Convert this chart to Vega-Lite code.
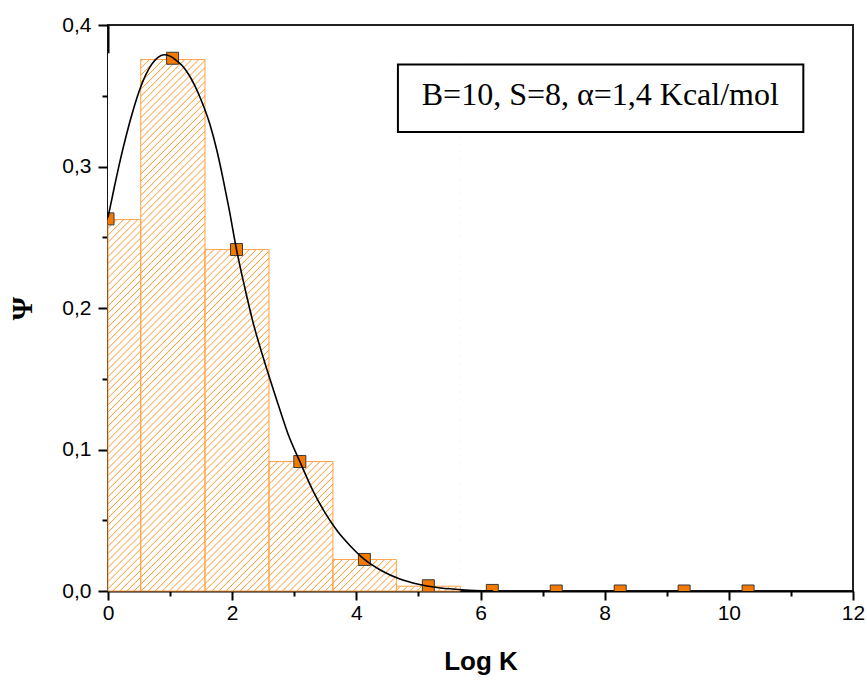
{
  "$schema": "https://vega.github.io/schema/vega-lite/v6.json",
  "width": 745,
  "height": 566,
  "autosize": {"type": "none"},
  "padding": {"left": 108, "top": 25, "right": 14, "bottom": 89},
  "background": "white",
  "config": {
    "view": {"stroke": "#222222", "strokeWidth": 2},
    "axis": {
      "grid": false,
      "ticks": true,
      "domainColor": "black",
      "domainWidth": 2,
      "tickColor": "black",
      "tickWidth": 2,
      "labelFont": "Liberation Sans",
      "labelFontSize": 21,
      "labelColor": "black",
      "labelFlush": false,
      "labelOverlap": false,
      "titleFont": "Liberation Sans",
      "titleFontSize": 26,
      "titleFontWeight": "bold",
      "titleColor": "black"
    }
  },
  "resolve": {"axis": {"x": "independent", "y": "independent"}},
  "datasets": {
    "bars": [
      {"x0": 0, "x1": 0.527, "h": 0.2625},
      {"x0": 0.527, "x1": 1.562, "h": 0.3756},
      {"x0": 1.562, "x1": 2.593, "h": 0.2413},
      {"x0": 2.593, "x1": 3.623, "h": 0.0915},
      {"x0": 3.623, "x1": 4.645, "h": 0.0223},
      {"x0": 4.645, "x1": 5.675, "h": 0.0034}
    ],
    "edges": [
      {"x": 0, "h": 0.2625},
      {"x": 0.527, "h": 0.3756},
      {"x": 1.562, "h": 0.2413},
      {"x": 2.593, "h": 0.0915},
      {"x": 3.623, "h": 0.0223},
      {"x": 4.645, "h": 0.0034},
      {"x": 5.675, "h": 0.0034}
    ],
    "points": [
      {"x": 0, "y": 0.263},
      {"x": 1.04, "y": 0.3765},
      {"x": 2.07, "y": 0.2413},
      {"x": 3.09, "y": 0.0915},
      {"x": 4.13, "y": 0.0223},
      {"x": 5.16, "y": 0.0037},
      {"x": 6.19, "y": 0.0004},
      {"x": 7.22, "y": 0.0},
      {"x": 8.25, "y": 0.0},
      {"x": 9.28, "y": 0.0},
      {"x": 10.31, "y": 0.0}
    ],
    "curve": [
      {"x": 0, "y": 0.264},
      {"x": 0.1, "y": 0.285},
      {"x": 0.2, "y": 0.305},
      {"x": 0.3, "y": 0.323},
      {"x": 0.4, "y": 0.339},
      {"x": 0.5, "y": 0.353},
      {"x": 0.6, "y": 0.364},
      {"x": 0.7, "y": 0.372},
      {"x": 0.8, "y": 0.377},
      {"x": 0.9, "y": 0.379},
      {"x": 1.0, "y": 0.378},
      {"x": 1.1, "y": 0.375},
      {"x": 1.2, "y": 0.371},
      {"x": 1.3, "y": 0.365},
      {"x": 1.4, "y": 0.357},
      {"x": 1.5, "y": 0.347},
      {"x": 1.64, "y": 0.33},
      {"x": 1.75, "y": 0.312},
      {"x": 1.85, "y": 0.292},
      {"x": 1.95, "y": 0.27},
      {"x": 2.07, "y": 0.2413},
      {"x": 2.2, "y": 0.215},
      {"x": 2.335, "y": 0.19},
      {"x": 2.5, "y": 0.165},
      {"x": 2.74, "y": 0.132},
      {"x": 2.9, "y": 0.111},
      {"x": 3.09, "y": 0.0915},
      {"x": 3.3, "y": 0.071},
      {"x": 3.5, "y": 0.055},
      {"x": 3.7, "y": 0.042},
      {"x": 3.9, "y": 0.032},
      {"x": 4.13, "y": 0.0223},
      {"x": 4.4, "y": 0.0145},
      {"x": 4.7, "y": 0.0085},
      {"x": 5.0, "y": 0.0048},
      {"x": 5.3, "y": 0.0025},
      {"x": 5.6, "y": 0.0012},
      {"x": 5.9, "y": 0.0004},
      {"x": 6.2, "y": 0.0001}
    ]
  },
  "layer": [
    {
      "data": {"values": [{}]},
      "mark": {
        "type": "rect",
        "stroke": null,
        "fill": {
          "gradient": "linear", "x1": 0, "y1": 0, "x2": 0.7658, "y2": 1.1553,
          "stops": [
            {"offset":0,"color":"#fff"},{"offset":0.0056,"color":"#fff"},{"offset":0.0068,"color":"#ff9a33"},
            {"offset":0.008,"color":"#fff"},{"offset":0.0136,"color":"#fff"},{"offset":0.0148,"color":"#ff9a33"},
            {"offset":0.016,"color":"#fff"},{"offset":0.0216,"color":"#fff"},{"offset":0.0228,"color":"#ff9a33"},
            {"offset":0.024,"color":"#fff"},{"offset":0.0296,"color":"#fff"},{"offset":0.0308,"color":"#ff9a33"},
            {"offset":0.032,"color":"#fff"},{"offset":0.0376,"color":"#fff"},{"offset":0.0388,"color":"#ff9a33"},
            {"offset":0.04,"color":"#fff"},{"offset":0.0456,"color":"#fff"},{"offset":0.0468,"color":"#ff9a33"},
            {"offset":0.048,"color":"#fff"},{"offset":0.0536,"color":"#fff"},{"offset":0.0548,"color":"#ff9a33"},
            {"offset":0.056,"color":"#fff"},{"offset":0.0616,"color":"#fff"},{"offset":0.0628,"color":"#ff9a33"},
            {"offset":0.064,"color":"#fff"},{"offset":0.0696,"color":"#fff"},{"offset":0.0708,"color":"#ff9a33"},
            {"offset":0.072,"color":"#fff"},{"offset":0.0776,"color":"#fff"},{"offset":0.0788,"color":"#ff9a33"},
            {"offset":0.08,"color":"#fff"},{"offset":0.0856,"color":"#fff"},{"offset":0.0868,"color":"#ff9a33"},
            {"offset":0.088,"color":"#fff"},{"offset":0.0936,"color":"#fff"},{"offset":0.0948,"color":"#ff9a33"},
            {"offset":0.096,"color":"#fff"},{"offset":0.1016,"color":"#fff"},{"offset":0.1028,"color":"#ff9a33"},
            {"offset":0.104,"color":"#fff"},{"offset":0.1096,"color":"#fff"},{"offset":0.1108,"color":"#ff9a33"},
            {"offset":0.112,"color":"#fff"},{"offset":0.1176,"color":"#fff"},{"offset":0.1188,"color":"#ff9a33"},
            {"offset":0.12,"color":"#fff"},{"offset":0.1256,"color":"#fff"},{"offset":0.1268,"color":"#ff9a33"},
            {"offset":0.128,"color":"#fff"},{"offset":0.1336,"color":"#fff"},{"offset":0.1348,"color":"#ff9a33"},
            {"offset":0.136,"color":"#fff"},{"offset":0.1416,"color":"#fff"},{"offset":0.1428,"color":"#ff9a33"},
            {"offset":0.144,"color":"#fff"},{"offset":0.1496,"color":"#fff"},{"offset":0.1508,"color":"#ff9a33"},
            {"offset":0.152,"color":"#fff"},{"offset":0.1576,"color":"#fff"},{"offset":0.1588,"color":"#ff9a33"},
            {"offset":0.16,"color":"#fff"},{"offset":0.1656,"color":"#fff"},{"offset":0.1668,"color":"#ff9a33"},
            {"offset":0.168,"color":"#fff"},{"offset":0.1736,"color":"#fff"},{"offset":0.1748,"color":"#ff9a33"},
            {"offset":0.176,"color":"#fff"},{"offset":0.1816,"color":"#fff"},{"offset":0.1828,"color":"#ff9a33"},
            {"offset":0.184,"color":"#fff"},{"offset":0.1896,"color":"#fff"},{"offset":0.1908,"color":"#ff9a33"},
            {"offset":0.192,"color":"#fff"},{"offset":0.1976,"color":"#fff"},{"offset":0.1988,"color":"#ff9a33"},
            {"offset":0.2,"color":"#fff"},{"offset":0.2056,"color":"#fff"},{"offset":0.2068,"color":"#ff9a33"},
            {"offset":0.208,"color":"#fff"},{"offset":0.2136,"color":"#fff"},{"offset":0.2148,"color":"#ff9a33"},
            {"offset":0.216,"color":"#fff"},{"offset":0.2216,"color":"#fff"},{"offset":0.2228,"color":"#ff9a33"},
            {"offset":0.224,"color":"#fff"},{"offset":0.2296,"color":"#fff"},{"offset":0.2308,"color":"#ff9a33"},
            {"offset":0.232,"color":"#fff"},{"offset":0.2376,"color":"#fff"},{"offset":0.2388,"color":"#ff9a33"},
            {"offset":0.24,"color":"#fff"},{"offset":0.2456,"color":"#fff"},{"offset":0.2468,"color":"#ff9a33"},
            {"offset":0.248,"color":"#fff"},{"offset":0.2536,"color":"#fff"},{"offset":0.2548,"color":"#ff9a33"},
            {"offset":0.256,"color":"#fff"},{"offset":0.2616,"color":"#fff"},{"offset":0.2628,"color":"#ff9a33"},
            {"offset":0.264,"color":"#fff"},{"offset":0.2696,"color":"#fff"},{"offset":0.2708,"color":"#ff9a33"},
            {"offset":0.272,"color":"#fff"},{"offset":0.2776,"color":"#fff"},{"offset":0.2788,"color":"#ff9a33"},
            {"offset":0.28,"color":"#fff"},{"offset":0.2856,"color":"#fff"},{"offset":0.2868,"color":"#ff9a33"},
            {"offset":0.288,"color":"#fff"},{"offset":0.2936,"color":"#fff"},{"offset":0.2948,"color":"#ff9a33"},
            {"offset":0.296,"color":"#fff"},{"offset":0.3016,"color":"#fff"},{"offset":0.3028,"color":"#ff9a33"},
            {"offset":0.304,"color":"#fff"},{"offset":0.3096,"color":"#fff"},{"offset":0.3108,"color":"#ff9a33"},
            {"offset":0.312,"color":"#fff"},{"offset":0.3176,"color":"#fff"},{"offset":0.3188,"color":"#ff9a33"},
            {"offset":0.32,"color":"#fff"},{"offset":0.3256,"color":"#fff"},{"offset":0.3268,"color":"#ff9a33"},
            {"offset":0.328,"color":"#fff"},{"offset":0.3336,"color":"#fff"},{"offset":0.3348,"color":"#ff9a33"},
            {"offset":0.336,"color":"#fff"},{"offset":0.3416,"color":"#fff"},{"offset":0.3428,"color":"#ff9a33"},
            {"offset":0.344,"color":"#fff"},{"offset":0.3496,"color":"#fff"},{"offset":0.3508,"color":"#ff9a33"},
            {"offset":0.352,"color":"#fff"},{"offset":0.3576,"color":"#fff"},{"offset":0.3588,"color":"#ff9a33"},
            {"offset":0.36,"color":"#fff"},{"offset":0.3656,"color":"#fff"},{"offset":0.3668,"color":"#ff9a33"},
            {"offset":0.368,"color":"#fff"},{"offset":0.3736,"color":"#fff"},{"offset":0.3748,"color":"#ff9a33"},
            {"offset":0.376,"color":"#fff"},{"offset":0.3816,"color":"#fff"},{"offset":0.3828,"color":"#ff9a33"},
            {"offset":0.384,"color":"#fff"},{"offset":0.3896,"color":"#fff"},{"offset":0.3908,"color":"#ff9a33"},
            {"offset":0.392,"color":"#fff"},{"offset":0.3976,"color":"#fff"},{"offset":0.3988,"color":"#ff9a33"},
            {"offset":0.4,"color":"#fff"},{"offset":0.4056,"color":"#fff"},{"offset":0.4068,"color":"#ff9a33"},
            {"offset":0.408,"color":"#fff"},{"offset":0.4136,"color":"#fff"},{"offset":0.4148,"color":"#ff9a33"},
            {"offset":0.416,"color":"#fff"},{"offset":0.4216,"color":"#fff"},{"offset":0.4228,"color":"#ff9a33"},
            {"offset":0.424,"color":"#fff"},{"offset":0.4296,"color":"#fff"},{"offset":0.4308,"color":"#ff9a33"},
            {"offset":0.432,"color":"#fff"},{"offset":0.4376,"color":"#fff"},{"offset":0.4388,"color":"#ff9a33"},
            {"offset":0.44,"color":"#fff"},{"offset":0.4456,"color":"#fff"},{"offset":0.4468,"color":"#ff9a33"},
            {"offset":0.448,"color":"#fff"},{"offset":0.4536,"color":"#fff"},{"offset":0.4548,"color":"#ff9a33"},
            {"offset":0.456,"color":"#fff"},{"offset":0.4616,"color":"#fff"},{"offset":0.4628,"color":"#ff9a33"},
            {"offset":0.464,"color":"#fff"},{"offset":0.4696,"color":"#fff"},{"offset":0.4708,"color":"#ff9a33"},
            {"offset":0.472,"color":"#fff"},{"offset":0.4776,"color":"#fff"},{"offset":0.4788,"color":"#ff9a33"},
            {"offset":0.48,"color":"#fff"},{"offset":0.4856,"color":"#fff"},{"offset":0.4868,"color":"#ff9a33"},
            {"offset":0.488,"color":"#fff"},{"offset":0.4936,"color":"#fff"},{"offset":0.4948,"color":"#ff9a33"},
            {"offset":0.496,"color":"#fff"},{"offset":0.5016,"color":"#fff"},{"offset":0.5028,"color":"#ff9a33"},
            {"offset":0.504,"color":"#fff"},{"offset":0.5096,"color":"#fff"},{"offset":0.5108,"color":"#ff9a33"},
            {"offset":0.512,"color":"#fff"},{"offset":0.5176,"color":"#fff"},{"offset":0.5188,"color":"#ff9a33"},
            {"offset":0.52,"color":"#fff"},{"offset":0.5256,"color":"#fff"},{"offset":0.5268,"color":"#ff9a33"},
            {"offset":0.528,"color":"#fff"},{"offset":0.5336,"color":"#fff"},{"offset":0.5348,"color":"#ff9a33"},
            {"offset":0.536,"color":"#fff"},{"offset":0.5416,"color":"#fff"},{"offset":0.5428,"color":"#ff9a33"},
            {"offset":0.544,"color":"#fff"},{"offset":0.5496,"color":"#fff"},{"offset":0.5508,"color":"#ff9a33"},
            {"offset":0.552,"color":"#fff"},{"offset":0.5576,"color":"#fff"},{"offset":0.5588,"color":"#ff9a33"},
            {"offset":0.56,"color":"#fff"},{"offset":0.5656,"color":"#fff"},{"offset":0.5668,"color":"#ff9a33"},
            {"offset":0.568,"color":"#fff"},{"offset":0.5736,"color":"#fff"},{"offset":0.5748,"color":"#ff9a33"},
            {"offset":0.576,"color":"#fff"},{"offset":0.5816,"color":"#fff"},{"offset":0.5828,"color":"#ff9a33"},
            {"offset":0.584,"color":"#fff"},{"offset":0.5896,"color":"#fff"},{"offset":0.5908,"color":"#ff9a33"},
            {"offset":0.592,"color":"#fff"},{"offset":0.5976,"color":"#fff"},{"offset":0.5988,"color":"#ff9a33"},
            {"offset":0.6,"color":"#fff"},{"offset":0.6056,"color":"#fff"},{"offset":0.6068,"color":"#ff9a33"},
            {"offset":0.608,"color":"#fff"},{"offset":0.6136,"color":"#fff"},{"offset":0.6148,"color":"#ff9a33"},
            {"offset":0.616,"color":"#fff"},{"offset":0.6216,"color":"#fff"},{"offset":0.6228,"color":"#ff9a33"},
            {"offset":0.624,"color":"#fff"},{"offset":0.6296,"color":"#fff"},{"offset":0.6308,"color":"#ff9a33"},
            {"offset":0.632,"color":"#fff"},{"offset":0.6376,"color":"#fff"},{"offset":0.6388,"color":"#ff9a33"},
            {"offset":0.64,"color":"#fff"},{"offset":0.6456,"color":"#fff"},{"offset":0.6468,"color":"#ff9a33"},
            {"offset":0.648,"color":"#fff"},{"offset":0.6536,"color":"#fff"},{"offset":0.6548,"color":"#ff9a33"},
            {"offset":0.656,"color":"#fff"},{"offset":0.6616,"color":"#fff"},{"offset":0.6628,"color":"#ff9a33"},
            {"offset":0.664,"color":"#fff"},{"offset":0.6696,"color":"#fff"},{"offset":0.6708,"color":"#ff9a33"},
            {"offset":0.672,"color":"#fff"},{"offset":0.6776,"color":"#fff"},{"offset":0.6788,"color":"#ff9a33"},
            {"offset":0.68,"color":"#fff"},{"offset":0.6856,"color":"#fff"},{"offset":0.6868,"color":"#ff9a33"},
            {"offset":0.688,"color":"#fff"},{"offset":0.6936,"color":"#fff"},{"offset":0.6948,"color":"#ff9a33"},
            {"offset":0.696,"color":"#fff"},{"offset":0.7016,"color":"#fff"},{"offset":0.7028,"color":"#ff9a33"},
            {"offset":0.704,"color":"#fff"},{"offset":0.7096,"color":"#fff"},{"offset":0.7108,"color":"#ff9a33"},
            {"offset":0.712,"color":"#fff"},{"offset":0.7176,"color":"#fff"},{"offset":0.7188,"color":"#ff9a33"},
            {"offset":0.72,"color":"#fff"},{"offset":0.7256,"color":"#fff"},{"offset":0.7268,"color":"#ff9a33"},
            {"offset":0.728,"color":"#fff"},{"offset":0.7336,"color":"#fff"},{"offset":0.7348,"color":"#ff9a33"},
            {"offset":0.736,"color":"#fff"},{"offset":0.7416,"color":"#fff"},{"offset":0.7428,"color":"#ff9a33"},
            {"offset":0.744,"color":"#fff"},{"offset":0.7496,"color":"#fff"},{"offset":0.7508,"color":"#ff9a33"},
            {"offset":0.752,"color":"#fff"},{"offset":0.7576,"color":"#fff"},{"offset":0.7588,"color":"#ff9a33"},
            {"offset":0.76,"color":"#fff"},{"offset":0.7656,"color":"#fff"},{"offset":0.7668,"color":"#ff9a33"},
            {"offset":0.768,"color":"#fff"},{"offset":0.7736,"color":"#fff"},{"offset":0.7748,"color":"#ff9a33"},
            {"offset":0.776,"color":"#fff"},{"offset":0.7816,"color":"#fff"},{"offset":0.7828,"color":"#ff9a33"},
            {"offset":0.784,"color":"#fff"},{"offset":0.7896,"color":"#fff"},{"offset":0.7908,"color":"#ff9a33"},
            {"offset":0.792,"color":"#fff"},{"offset":0.7976,"color":"#fff"},{"offset":0.7988,"color":"#ff9a33"},
            {"offset":0.8,"color":"#fff"},{"offset":0.8056,"color":"#fff"},{"offset":0.8068,"color":"#ff9a33"},
            {"offset":0.808,"color":"#fff"},{"offset":0.8136,"color":"#fff"},{"offset":0.8148,"color":"#ff9a33"},
            {"offset":0.816,"color":"#fff"},{"offset":0.8216,"color":"#fff"},{"offset":0.8228,"color":"#ff9a33"},
            {"offset":0.824,"color":"#fff"},{"offset":0.8296,"color":"#fff"},{"offset":0.8308,"color":"#ff9a33"},
            {"offset":0.832,"color":"#fff"},{"offset":0.8376,"color":"#fff"},{"offset":0.8388,"color":"#ff9a33"},
            {"offset":0.84,"color":"#fff"},{"offset":0.8456,"color":"#fff"},{"offset":0.8468,"color":"#ff9a33"},
            {"offset":0.848,"color":"#fff"},{"offset":0.8536,"color":"#fff"},{"offset":0.8548,"color":"#ff9a33"},
            {"offset":0.856,"color":"#fff"},{"offset":0.8616,"color":"#fff"},{"offset":0.8628,"color":"#ff9a33"},
            {"offset":0.864,"color":"#fff"},{"offset":0.8696,"color":"#fff"},{"offset":0.8708,"color":"#ff9a33"},
            {"offset":0.872,"color":"#fff"},{"offset":0.8776,"color":"#fff"},{"offset":0.8788,"color":"#ff9a33"},
            {"offset":0.88,"color":"#fff"},{"offset":0.8856,"color":"#fff"},{"offset":0.8868,"color":"#ff9a33"},
            {"offset":0.888,"color":"#fff"},{"offset":0.8936,"color":"#fff"},{"offset":0.8948,"color":"#ff9a33"},
            {"offset":0.896,"color":"#fff"},{"offset":0.9016,"color":"#fff"},{"offset":0.9028,"color":"#ff9a33"},
            {"offset":0.904,"color":"#fff"},{"offset":0.9096,"color":"#fff"},{"offset":0.9108,"color":"#ff9a33"},
            {"offset":0.912,"color":"#fff"},{"offset":0.9176,"color":"#fff"},{"offset":0.9188,"color":"#ff9a33"},
            {"offset":0.92,"color":"#fff"},{"offset":0.9256,"color":"#fff"},{"offset":0.9268,"color":"#ff9a33"},
            {"offset":0.928,"color":"#fff"},{"offset":0.9336,"color":"#fff"},{"offset":0.9348,"color":"#ff9a33"},
            {"offset":0.936,"color":"#fff"},{"offset":0.9416,"color":"#fff"},{"offset":0.9428,"color":"#ff9a33"},
            {"offset":0.944,"color":"#fff"},{"offset":0.9496,"color":"#fff"},{"offset":0.9508,"color":"#ff9a33"},
            {"offset":0.952,"color":"#fff"},{"offset":0.9576,"color":"#fff"},{"offset":0.9588,"color":"#ff9a33"},
            {"offset":0.96,"color":"#fff"},{"offset":0.9656,"color":"#fff"},{"offset":0.9668,"color":"#ff9a33"},
            {"offset":0.968,"color":"#fff"},{"offset":0.9736,"color":"#fff"},{"offset":0.9748,"color":"#ff9a33"},
            {"offset":0.976,"color":"#fff"},{"offset":0.9816,"color":"#fff"},{"offset":0.9828,"color":"#ff9a33"},
            {"offset":0.984,"color":"#fff"},{"offset":0.9896,"color":"#fff"},{"offset":0.9908,"color":"#ff9a33"},
            {"offset":0.992,"color":"#fff"},{"offset":0.9976,"color":"#fff"},{"offset":0.9988,"color":"#ff9a33"},
            {"offset":1,"color":"#fff"}
          ]
        }
      },
      "encoding": {
        "x": {"datum": 0, "type": "quantitative", "scale": {"domain": [0, 12], "nice": false, "zero": false}, "axis": null},
        "x2": {"datum": 5.675},
        "y": {"datum": 0, "type": "quantitative", "scale": {"domain": [0, 0.4], "nice": false}, "axis": null},
        "y2": {"datum": 0.3756}
      }
    },
    {
      "data": {"name": "edges"},
      "mark": {"type": "area", "interpolate": "step-after", "fill": "white", "stroke": null, "opacity": 1},
      "encoding": {
        "x": {
          "field": "x", "type": "quantitative",
          "axis": {"orient": "bottom", "values": [1, 3, 5, 7, 9, 11], "labels": false, "title": null, "domain": false, "tickSize": 5}
        },
        "y": {
          "field": "h", "type": "quantitative",
          "axis": {"orient": "left", "values": [0.05, 0.15, 0.25, 0.35], "labels": false, "title": null, "domain": false, "tickSize": 6}
        },
        "y2": {"datum": 0.38}
      }
    },
    {
      "data": {"name": "bars"},
      "mark": {"type": "rect", "fill": null, "fillOpacity": 0, "stroke": "#FFA24A", "strokeWidth": 1},
      "encoding": {
        "x": {
          "field": "x0", "type": "quantitative",
          "axis": {
            "orient": "bottom",
            "title": "Log K",
            "values": [0, 2, 4, 6, 8, 10, 12],
            "format": "d",
            "tickSize": 9,
            "labelPadding": 2,
            "titlePadding": 25
          }
        },
        "x2": {"field": "x1"},
        "y": {
          "field": "h", "type": "quantitative",
          "axis": {
            "orient": "left",
            "title": "Ψ",
            "titleFont": "Liberation Serif",
            "titleFontSize": 30,
            "values": [0, 0.1, 0.2, 0.3, 0.4],
            "labelExpr": "replace(format(datum.value, '.1f'), '.', ',')",
            "tickSize": 10,
            "labelPadding": 7,
            "titlePadding": 24
          }
        },
        "y2": {"datum": 0}
      }
    },
    {
      "data": {"name": "points"},
      "mark": {"type": "point", "shape": "square", "size": 144, "filled": true, "fill": "#F27A00", "stroke": "#3a3a3a", "strokeWidth": 1, "opacity": 1, "clip": true},
      "encoding": {
        "x": {"field": "x", "type": "quantitative", "axis": null},
        "y": {"field": "y", "type": "quantitative", "axis": null}
      }
    },
    {
      "data": {"name": "curve"},
      "mark": {"type": "line", "color": "black", "strokeWidth": 1.6, "interpolate": "monotone"},
      "encoding": {
        "x": {"field": "x", "type": "quantitative", "axis": null},
        "y": {"field": "y", "type": "quantitative", "axis": null}
      }
    },
    {
      "data": {"values": [{}]},
      "mark": {"type": "rect", "fill": "white", "stroke": "black", "strokeWidth": 2},
      "encoding": {
        "x": {"datum": 4.67, "type": "quantitative", "axis": null},
        "x2": {"datum": 11.2},
        "y": {"datum": 0.3721, "type": "quantitative", "axis": null},
        "y2": {"datum": 0.3243}
      }
    },
    {
      "data": {"values": [{"label": "B=10, S=8, α=1,4 Kcal/mol"}]},
      "mark": {"type": "text", "font": "Liberation Serif", "fontSize": 32, "color": "black", "align": "center", "baseline": "alphabetic"},
      "encoding": {
        "x": {"datum": 7.93, "type": "quantitative", "axis": null},
        "y": {"datum": 0.3438, "type": "quantitative", "axis": null},
        "text": {"field": "label"}
      }
    }
  ]
}
